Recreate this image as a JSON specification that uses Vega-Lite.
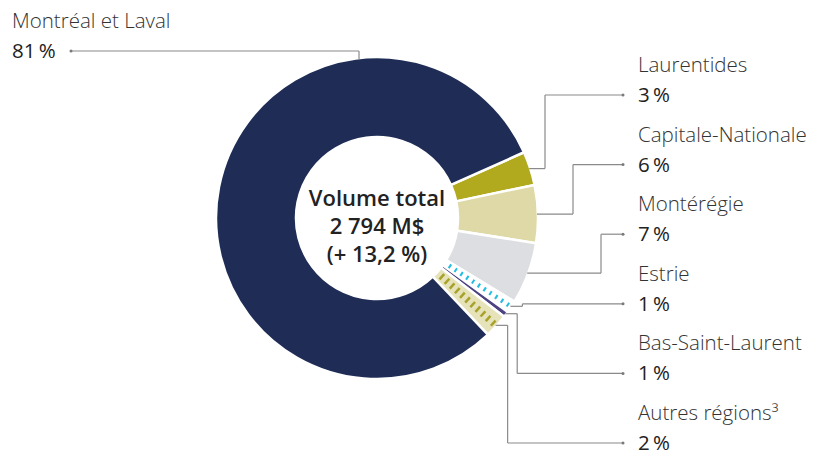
{
  "$schema": "https://vega.github.io/schema/vega-lite/v6.json",
  "width": 754,
  "height": 436,
  "padding": {"left": 0, "top": 0, "right": 72, "bottom": 20},
  "autosize": {"type": "none"},
  "background": "white",
  "config": {"view": {"stroke": null}, "font": "Open Sans"},
  "data": {"values": [
    {"region": "Laurentides", "share": 3.4, "label": "3\u2009%", "rank": 1, "side": "right"},
    {"region": "Capitale-Nationale", "share": 5.8, "label": "6\u2009%", "rank": 2, "side": "right"},
    {"region": "Montérégie", "share": 6.2, "label": "7\u2009%", "rank": 3, "side": "right"},
    {"region": "Estrie", "share": 1.2, "label": "1\u2009%", "rank": 4, "side": "right"},
    {"region": "Bas-Saint-Laurent", "share": 0.6, "label": "1\u2009%", "rank": 5, "side": "right"},
    {"region": "Autres régions³", "share": 2.4, "label": "2\u2009%", "rank": 6, "side": "right"},
    {"region": "Montréal et Laval", "share": 80.4, "label": "81\u2009%", "rank": 7, "side": "left"}
  ]},
  "transform": [
    {"stack": "share", "groupby": [], "sort": [{"field": "rank"}], "as": ["s0", "s1"]},
    {"calculate": "1.1502 + 2*PI*(datum.s0 + (datum.side === 'left' ? 0.75 : 0.5)*(datum.s1 - datum.s0))/100", "as": "anchorAngle"},
    {"calculate": "sin(datum.anchorAngle)", "as": "ax"},
    {"calculate": "-cos(datum.anchorAngle)", "as": "ay"},
    {"calculate": "datum.side === 'left' ? -1.04375 : -0.76875 + 0.435*(datum.rank - 1)", "as": "ly"},
    {"calculate": "datum.side === 'left' ? -2.28125 : 1.63125", "as": "tx"},
    {"calculate": "datum.side === 'left' ? -1.9125 : 1.5375", "as": "dotx"},
    {"calculate": "datum.side === 'left' ? datum.ax : (datum.ly < datum.ay - 0.05 ? 1.05 + 0.175*(datum.rank - 1) : datum.ax + 0.075)", "as": "ex"}
  ],
  "layer": [
    {
      "mark": {"type": "arc", "innerRadius": 81, "outerRadius": 161, "stroke": "white", "strokeWidth": 2.5},
      "encoding": {
        "theta": {"field": "s0", "type": "quantitative", "stack": null, "scale": {"domain": [0, 100], "range": [1.1502, 7.4334]}},
        "theta2": {"field": "s1"},
        "color": {"field": "region", "type": "nominal", "legend": null,
          "scale": {"domain": ["Laurentides", "Capitale-Nationale", "Montérégie", "Estrie", "Bas-Saint-Laurent", "Autres régions³", "Montréal et Laval"],
                    "range": ["#b1aa1f", "#dfd9a7", "#dddee1", "#ffffff", "#4e4382", "#e6e3bb", "#1f2d56"]}}
      }
    },
    {
      "transform": [{"filter": "datum.region === 'Estrie'"}],
      "mark": {"type": "arc", "innerRadius": 84, "outerRadius": 158, "padAngle": 0.6, "fill": null, "fillOpacity": 0, "stroke": "#22bde0", "strokeWidth": 4.5, "strokeDash": [2, 4.95]},
      "encoding": {
        "theta": {"field": "s0", "type": "quantitative", "stack": null, "scale": {"domain": [0, 100], "range": [1.1502, 7.4334]}},
        "theta2": {"field": "s1"}
      }
    },
    {
      "transform": [{"filter": "datum.region === 'Autres régions³'"}],
      "mark": {"type": "arc", "innerRadius": 84, "outerRadius": 158, "padAngle": 0.6, "fill": null, "fillOpacity": 0, "stroke": "#a8a22a", "strokeWidth": 7, "strokeDash": [2.5, 4.43]},
      "encoding": {
        "theta": {"field": "s0", "type": "quantitative", "stack": null, "scale": {"domain": [0, 100], "range": [1.1502, 7.4334]}},
        "theta2": {"field": "s1"}
      }
    },
    {
      "mark": {"type": "rule", "color": "#8a8a8a", "strokeWidth": 1.2},
      "encoding": {
        "x": {"field": "ax", "type": "quantitative", "axis": null, "scale": {"domain": [-2.35625, 2.35625], "nice": false, "zero": false}},
        "x2": {"field": "ex"},
        "y": {"field": "ay", "type": "quantitative", "axis": null, "scale": {"domain": [-1.3625, 1.3625], "nice": false, "zero": false, "reverse": true}}
      }
    },
    {
      "mark": {"type": "rule", "color": "#8a8a8a", "strokeWidth": 1.2},
      "encoding": {
        "x": {"field": "ex", "type": "quantitative", "axis": null, "scale": {"domain": [-2.35625, 2.35625], "nice": false, "zero": false}},
        "y": {"field": "ay", "type": "quantitative", "axis": null, "scale": {"domain": [-1.3625, 1.3625], "nice": false, "zero": false, "reverse": true}},
        "y2": {"field": "ly"}
      }
    },
    {
      "mark": {"type": "rule", "color": "#8a8a8a", "strokeWidth": 1.2},
      "encoding": {
        "x": {"field": "dotx", "type": "quantitative", "axis": null, "scale": {"domain": [-2.35625, 2.35625], "nice": false, "zero": false}},
        "x2": {"field": "ex"},
        "y": {"field": "ly", "type": "quantitative", "axis": null, "scale": {"domain": [-1.3625, 1.3625], "nice": false, "zero": false, "reverse": true}}
      }
    },
    {
      "mark": {"type": "point", "filled": true, "size": 9, "color": "#7a7a7a", "opacity": 1},
      "encoding": {
        "x": {"field": "dotx", "type": "quantitative", "axis": null, "scale": {"domain": [-2.35625, 2.35625], "nice": false, "zero": false}},
        "y": {"field": "ly", "type": "quantitative", "axis": null, "scale": {"domain": [-1.3625, 1.3625], "nice": false, "zero": false, "reverse": true}}
      }
    },
    {
      "mark": {"type": "text", "align": "left", "baseline": "alphabetic", "dy": -23, "fontSize": 20.5, "fontWeight": 300, "color": "#333333"},
      "encoding": {
        "x": {"field": "tx", "type": "quantitative", "axis": null, "scale": {"domain": [-2.35625, 2.35625], "nice": false, "zero": false}},
        "y": {"field": "ly", "type": "quantitative", "axis": null, "scale": {"domain": [-1.3625, 1.3625], "nice": false, "zero": false, "reverse": true}},
        "text": {"field": "region", "type": "nominal"}
      }
    },
    {
      "mark": {"type": "text", "align": "left", "baseline": "alphabetic", "dy": 7, "fontSize": 20.5, "fontWeight": 400, "color": "#222222"},
      "encoding": {
        "x": {"field": "tx", "type": "quantitative", "axis": null, "scale": {"domain": [-2.35625, 2.35625], "nice": false, "zero": false}},
        "y": {"field": "ly", "type": "quantitative", "axis": null, "scale": {"domain": [-1.3625, 1.3625], "nice": false, "zero": false, "reverse": true}},
        "text": {"field": "label", "type": "nominal"}
      }
    },
    {
      "data": {"values": [{"lines": ["Volume total", "2 794 M$", "(+ 13,2 %)"]}]},
      "mark": {"type": "text", "align": "center", "baseline": "middle", "dy": -19, "fontSize": 22, "fontWeight": 600, "lineHeight": 28, "color": "#222222"},
      "encoding": {
        "text": {"field": "lines", "type": "nominal"}
      }
    }
  ]
}
